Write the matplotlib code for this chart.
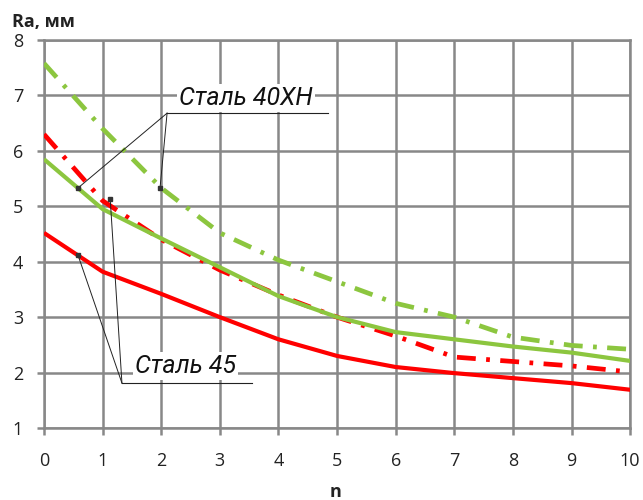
"""Ra vs n for two steels (Сталь 45, Сталь 40ХН), solid and dash-dot variants."""

import matplotlib

matplotlib.use("Agg")
import matplotlib.pyplot as plt

# Data
N = [0, 1, 2, 3, 4, 5, 6, 7, 8, 9, 10]
RA_45_SOLID = [4.52, 3.82, 3.42, 3.0, 2.6, 2.3, 2.1, 1.99, 1.9, 1.81, 1.69]
RA_45_DASHDOT = [6.3, 5.1, 4.4, 3.85, 3.4, 3.0, 2.66, 2.28, 2.2, 2.12, 2.01]
RA_40XN_SOLID = [5.85, 4.95, 4.42, 3.9, 3.38, 3.0, 2.73, 2.6, 2.47, 2.36, 2.21]
RA_40XN_DASHDOT = [7.58, 6.4, 5.33, 4.52, 4.03, 3.64, 3.25, 3.0, 2.64, 2.49, 2.42]

X_TICKS = list(range(0, 11))
Y_TICKS = list(range(1, 9))

RED = "#ff0000"
GREEN = "#8cc63f"
GRID = "#888888"

fig = plt.figure(figsize=(6.43, 5.0), dpi=100)
ax = fig.add_axes([0.0684, 0.144, 0.9116, 0.776])

ax.plot(N, RA_45_SOLID, color=RED, lw=3.0, solid_capstyle="butt", zorder=3)
ax.plot(N, RA_45_DASHDOT, color=RED, lw=3.4, dashes=(4, 2.2, 0.8, 2.2), zorder=3)
ax.plot(N, RA_40XN_SOLID, color=GREEN, lw=3.0, solid_capstyle="butt", zorder=4)
ax.plot(N, RA_40XN_DASHDOT, color=GREEN, lw=3.4, dashes=(4, 2.2, 0.8, 2.2), zorder=3)

ax.set_xlim(0, 10)
ax.set_ylim(1, 8)
ax.set_xticks(X_TICKS)
ax.set_yticks(Y_TICKS)
ax.grid(True, color=GRID, lw=1.8, zorder=1)
ax.set_axisbelow(True)
for sp in ax.spines.values():
    sp.set_color(GRID)
    sp.set_linewidth(1.8)
ax.tick_params(direction="out", length=5, width=1.8, color=GRID,
               labelsize=13, labelcolor="#222222")
ax.tick_params(axis="x", pad=12)
ax.tick_params(axis="y", pad=10)
for lbl in ax.get_xticklabels() + ax.get_yticklabels():
    lbl.set_family("Open Sans")

fig.text(0.018, 0.956, "Ra, мм", fontsize=13, fontweight="bold",
         family="Open Sans", ha="left", va="center", color="#222222")
fig.text(0.522, 0.016, "n", fontsize=13, fontweight="bold",
         family="Open Sans", ha="center", va="center", color="#222222")

# Callouts
label_font = dict(fontsize=18, fontstyle="italic", fontweight="normal",
                  family=["Roboto", "DejaVu Sans"], color="#111111")


def callout(text, text_xy, corner, line_end, targets):
    ax.text(*text_xy, text, ha="center", va="center", zorder=6,
            bbox=dict(facecolor="white", edgecolor="none", pad=1.5), **label_font)
    ax.plot([corner[0], line_end], [corner[1], corner[1]], color="#222222",
            lw=0.8, zorder=6, clip_on=False)
    for tx, ty in targets:
        ax.plot([corner[0], tx], [corner[1], ty], color="#222222", lw=0.7, zorder=6)
        ax.plot(tx, ty, marker="s", ms=3.5, color="#333333", zorder=7)


callout("Сталь 40ХН", (3.45, 6.95), (2.1, 6.68), 4.85,
        [(0.58, 5.33), (1.98, 5.33)])
callout("Сталь 45", (2.42, 2.12), (1.33, 1.81), 3.55,
        [(0.58, 4.12), (1.13, 5.13)])

fig.savefig("out.png", dpi=100)
